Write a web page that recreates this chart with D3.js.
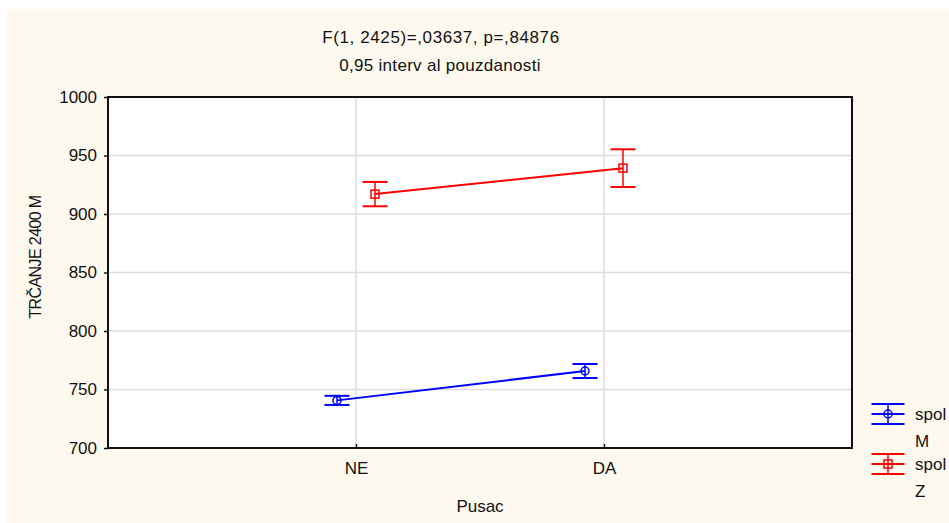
<!DOCTYPE html>
<html><head><meta charset="utf-8">
<script src="https://cdn.jsdelivr.net/npm/d3@7"></script>
<style>
html,body{margin:0;padding:0;background:#fff;}
svg{display:block;font-family:"Liberation Sans",Arial,sans-serif;}
</style></head>
<body><svg id="c" width="949" height="523"></svg>
<script>
const categories = ["NE", "DA"];
const seriesNames = ["M", "Z"];
const meansM = [740.7, 765.8];
const ciM = [3.9, 6.0];
const meansZ = [917.0, 939.2];
const ciZ = [10.4, 16.1];
const yTicks = [700, 750, 800, 850, 900, 950, 1000];
const titleLines = ["F(1, 2425)=,03637, p=,84876", "0,95 interv al pouzdanosti"];
const yLabel = "TRČANJE 2400 M";
const xLabel = "Pusac";
const legendLabel = "spol";

const series = [
  {name: seriesNames[0], means: meansM, ci: ciM, color: "#0000ff", marker: "circle", offset: -19},
  {name: seriesNames[1], means: meansZ, ci: ciZ, color: "#ff0000", marker: "square", offset: 19}
];

const svg = d3.select("#c");
svg.append("rect").attr("x", 7).attr("y", 9).attr("width", 942).attr("height", 514).attr("fill", "#fef9ee");

const L = 108, R = 852, T = 97, B = 448;
const x = d3.scalePoint().domain(categories).range([L, R]).padding(1);
const y = d3.scaleLinear().domain([700, 1000]).range([B, T]);

svg.append("rect").attr("x", L).attr("y", T).attr("width", R - L).attr("height", B - T).attr("fill", "#fff");

// grid
svg.append("g").selectAll("line").data(yTicks.slice(1, -1)).join("line")
  .attr("x1", L).attr("x2", R).attr("y1", d => y(d)).attr("y2", d => y(d))
  .attr("stroke", "#dcdcdc").attr("stroke-width", 1.5);
svg.append("g").selectAll("line").data(categories).join("line")
  .attr("x1", d => x(d)).attr("x2", d => x(d)).attr("y1", T).attr("y2", B)
  .attr("stroke", "#dcdcdc").attr("stroke-width", 1.5);

// axes
const yAxis = svg.append("g").attr("transform", `translate(${L},0)`)
  .call(d3.axisLeft(y).tickValues(yTicks).tickFormat(d3.format("d")).tickSize(4).tickPadding(7));
yAxis.select(".domain").remove();
yAxis.selectAll("text").attr("font-size", 17).attr("fill", "#111").attr("font-family", "Liberation Sans, Arial, sans-serif");
yAxis.selectAll("line").attr("stroke", "#111").attr("stroke-width", 1.5);

const xAxis = svg.append("g").attr("transform", `translate(0,${B})`)
  .call(d3.axisBottom(x).tickSize(-4).tickPadding(14));
xAxis.select(".domain").remove();
xAxis.selectAll("text").attr("font-size", 17).attr("fill", "#111").attr("font-family", "Liberation Sans, Arial, sans-serif");
xAxis.selectAll("line").attr("stroke", "#111").attr("stroke-width", 1.5);

// border
svg.append("rect").attr("x", L).attr("y", T).attr("width", R - L).attr("height", B - T)
  .attr("fill", "none").attr("stroke", "#111").attr("stroke-width", 2);

// series
const line = d3.line();
series.forEach(s => {
  const g = svg.append("g");
  const pts = categories.map((c, i) => [x(c) + s.offset, y(s.means[i])]);
  g.append("path").attr("d", line(pts)).attr("fill", "none").attr("stroke", s.color).attr("stroke-width", 2);
  categories.forEach((c, i) => {
    const cx = x(c) + s.offset;
    const lo = y(s.means[i] - s.ci[i]), hi = y(s.means[i] + s.ci[i]);
    g.append("line").attr("x1", cx).attr("x2", cx).attr("y1", hi).attr("y2", lo).attr("stroke", s.color).attr("stroke-width", 1.5);
    [lo, hi].forEach(yy => g.append("line").attr("x1", cx - 12.5).attr("x2", cx + 12.5).attr("y1", yy).attr("y2", yy).attr("stroke", s.color).attr("stroke-width", 2));
    const cy = y(s.means[i]);
    if (s.marker === "circle") {
      g.append("circle").attr("cx", cx).attr("cy", cy).attr("r", 4).attr("fill", "none").attr("stroke", s.color).attr("stroke-width", 1.5);
    } else {
      g.append("rect").attr("x", cx - 4).attr("y", cy - 4).attr("width", 8).attr("height", 8).attr("fill", "none").attr("stroke", s.color).attr("stroke-width", 1.5);
    }
  });
});

// titles
svg.append("text").attr("x", 441).attr("y", 43).attr("text-anchor", "middle").attr("font-size", 17).attr("letter-spacing", 0.6).attr("fill", "#111").text(titleLines[0]);
svg.append("text").attr("x", 440).attr("y", 71).attr("text-anchor", "middle").attr("font-size", 17).attr("letter-spacing", 0.3).attr("fill", "#111").text(titleLines[1]);

svg.append("text").attr("transform", "translate(41,257) rotate(-90)").attr("text-anchor", "middle").attr("font-size", 16).attr("letter-spacing", -0.6).attr("fill", "#111").text(yLabel);
svg.append("text").attr("x", 480).attr("y", 512).attr("text-anchor", "middle").attr("font-size", 17).attr("fill", "#111").text(xLabel);

// legend
series.forEach((s, i) => {
  const cy = 414 + i * 50, cx = 888;
  const g = svg.append("g");
  [-10, 0, 10].forEach(dy => g.append("line").attr("x1", cx - 16.5).attr("x2", cx + 16.5).attr("y1", cy + dy).attr("y2", cy + dy).attr("stroke", s.color).attr("stroke-width", 2));
  g.append("line").attr("x1", cx).attr("x2", cx).attr("y1", cy - 10).attr("y2", cy + 10).attr("stroke", s.color).attr("stroke-width", 1.5);
  if (s.marker === "circle") g.append("circle").attr("cx", cx).attr("cy", cy).attr("r", 4).attr("fill", "none").attr("stroke", s.color).attr("stroke-width", 1.5);
  else g.append("rect").attr("x", cx - 4).attr("y", cy - 4).attr("width", 8).attr("height", 8).attr("fill", "none").attr("stroke", s.color).attr("stroke-width", 1.5);
  g.append("text").attr("x", 915).attr("y", cy + 6).attr("font-size", 17).attr("fill", "#111").text(legendLabel);
  g.append("text").attr("x", 915).attr("y", cy + 33).attr("font-size", 17).attr("fill", "#111").text(s.name);
});
</script></body></html>
